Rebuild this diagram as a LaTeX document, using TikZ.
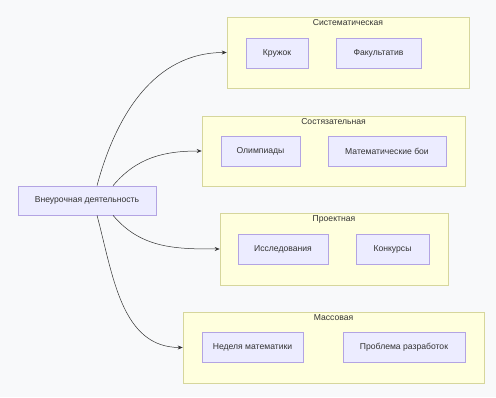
\documentclass[tikz,border=0pt]{standalone}
\usepackage{fontspec}
\setmainfont{Liberation Sans}
\usetikzlibrary{arrows.meta}
\definecolor{bgcol}{HTML}{F8F9FA}
\definecolor{nodefill}{HTML}{ECECFF}
\definecolor{nodeline}{HTML}{B3A4E3}
\definecolor{grpfill}{HTML}{FFFFDE}
\definecolor{grpline}{HTML}{D6D69C}
\definecolor{linkcol}{HTML}{333333}
\begin{document}
\begin{tikzpicture}[
  x=1pt, y=1pt,
  font=\fontsize{8.6}{10}\selectfont,
  box/.style={draw=nodeline, fill=nodefill, line width=0.6pt, minimum height=30pt, inner sep=0pt, align=center, text=black!80},
  group/.style={draw=grpline, fill=grpfill, line width=0.6pt, inner sep=0pt},
  title/.style={anchor=north, inner sep=0pt, text=black!80},
  link/.style={draw=linkcol, line width=0.5pt, -{Stealth[length=5pt, width=4pt]}}
]
\useasboundingbox[fill=bgcol] (0,0) rectangle (496,397);
% groups
\node[group, minimum width=242pt, minimum height=71pt] (sys) at (348,344.5) {};
\node[title] at ([yshift=-3pt]sys.north) {Систематическая};
\node[group, minimum width=263pt, minimum height=70pt] (comp) at (333.5,246) {};
\node[title] at ([yshift=-3pt]comp.north) {Состязательная};
\node[group, minimum width=228pt, minimum height=72pt] (proj) at (334,148) {};
\node[title] at ([yshift=-3pt]proj.north) {Проектная};
\node[group, minimum width=301pt, minimum height=71pt] (mass) at (333.5,49.5) {};
\node[title] at ([yshift=-3pt]mass.north) {Массовая};
% inner nodes
\node[box, minimum width=62pt] (club) at (277,344) {Кружок};
\node[box, minimum width=85pt] (elective) at (378.5,344) {Факультатив};
\node[box, minimum width=79pt] (olymp) at (260.5,246) {Олимпиады};
\node[box, minimum width=118pt] (battles) at (387,246) {Математические бои};
\node[box, minimum width=90pt] (research) at (283,148) {Исследования};
\node[box, minimum width=73pt] (contests) at (392.5,148) {Конкурсы};
\node[box, minimum width=101pt] (week) at (252.5,50) {Неделя математики};
\node[box, minimum width=122pt] (problem) at (404,50) {Проблема разработок};
% root
\node[box, minimum width=138pt, minimum height=29pt] (main) at (87,196.5) {Внеурочная деятельность};
% links
\draw[link] ([xshift=10pt]main.north) to[out=75, in=180] (sys.west);
\draw[link] ([xshift=26pt]main.north) to[out=50, in=180] (comp.west);
\draw[link] ([xshift=26pt]main.south) to[out=-50, in=180] (proj.west);
\draw[link] ([xshift=10pt]main.south) to[out=-75, in=180] (mass.west);
\end{tikzpicture}
\end{document}
